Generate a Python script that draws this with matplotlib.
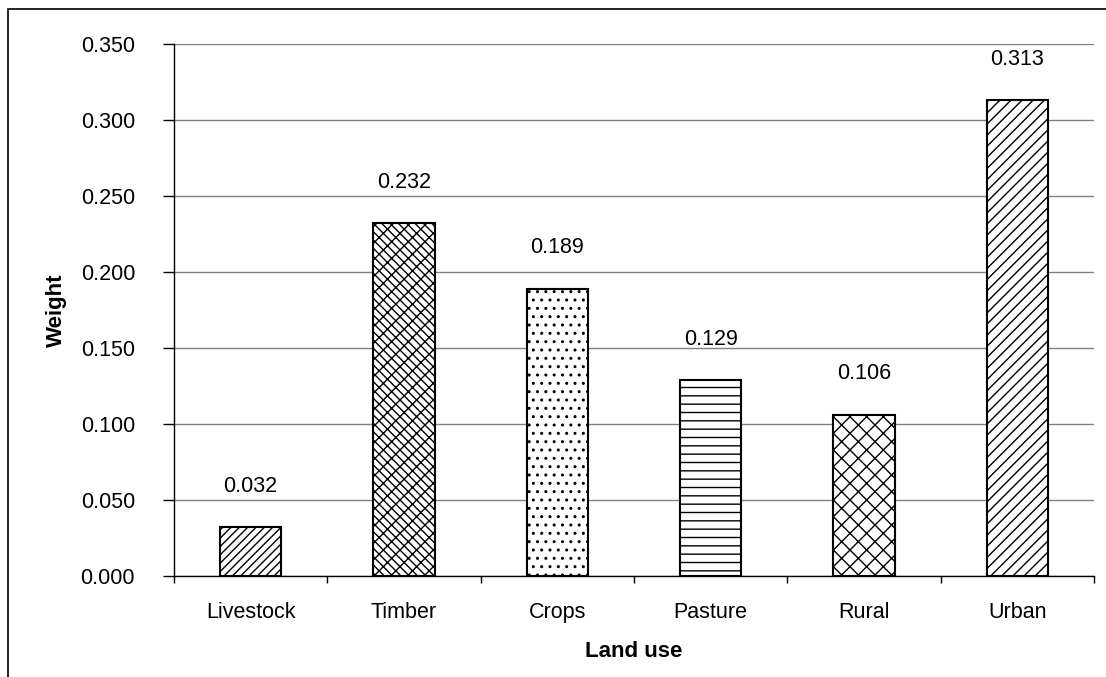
import matplotlib.pyplot as plt
import numpy as np
from matplotlib.patches import Rectangle

plt.rcParams['font.family'] = ['Liberation Sans', 'DejaVu Sans']
plt.rcParams['hatch.linewidth'] = 1.0

# data
categories = ['Livestock', 'Timber', 'Crops', 'Pasture', 'Rural', 'Urban']
weights = [0.032, 0.232, 0.189, 0.129, 0.106, 0.313]
hatches = ['////', 'xx\\\\', '..', '--', 'xx', '///']

fig = plt.figure(figsize=(11.06, 6.77), dpi=100)
ax = fig.add_axes([174 / 1106, 1 - 576 / 677, 920 / 1106, (576 - 44) / 677])

x = np.arange(len(categories))
bars = ax.bar(x, weights, width=0.4, color='white', edgecolor='black',
              linewidth=1.5, zorder=3)
for b, h in zip(bars, hatches):
    b.set_hatch(h)

for xi, w in zip(x, weights):
    ax.text(xi, w + 0.02, f'{w:.3f}', ha='center', va='bottom', fontsize=15.5)

ax.set_xlim(-0.5, len(categories) - 0.5)
ax.set_ylim(0, 0.35)
yt = np.arange(0, 0.351, 0.05)
ax.set_yticks(yt)
ax.set_yticklabels([f'{v:.3f}' for v in yt], fontsize=15.5)
ax.set_xticks(x)
ax.set_xticklabels(categories, fontsize=15.5)
ax.set_xticks(np.arange(-0.5, len(categories), 1), minor=True)
ax.tick_params(axis='x', which='major', length=0, pad=19)
ax.tick_params(axis='x', which='minor', length=5, width=1, direction='out')
ax.tick_params(axis='y', length=8, width=1, direction='out', pad=20)

ax.grid(True, axis='y', color='#808080', linewidth=1, zorder=0)
ax.set_axisbelow(True)
for s in ['top', 'right']:
    ax.spines[s].set_visible(False)
for s in ['left', 'bottom']:
    ax.spines[s].set_color('black')
    ax.spines[s].set_linewidth(1)

ax.set_xlabel('Land use', fontsize=16, fontweight='bold', labelpad=13)
ax.set_ylabel('Weight', fontsize=16, fontweight='bold', labelpad=10)

# outer chart-area border
fig.patches.append(Rectangle((8 / 1106, -0.2), 1.5, 1.2 - 9 / 677,
                             transform=fig.transFigure, fill=False,
                             edgecolor='black', linewidth=1.2))

fig.savefig('out.png', dpi=100, facecolor='white')
